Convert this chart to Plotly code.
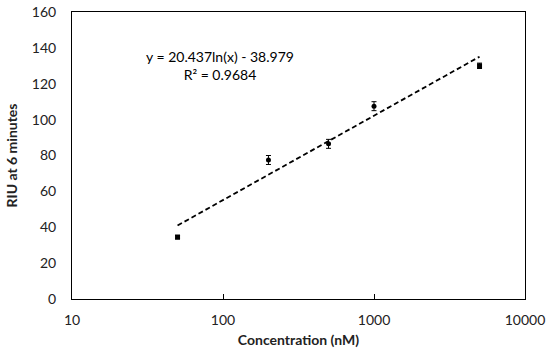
import numpy as np
import plotly.graph_objects as go

concentration = [50, 200, 500, 1000, 5000]
riu = [34.5, 77.5, 86.5, 107.5, 130.0]
riu_err = [1.0, 2.5, 2.5, 2.5, 1.5]
symbols = ["square", "circle", "circle", "circle", "square"]

fit_a = 20.437
fit_b = -38.979
fit_range = [50, 5000]
fit_y = [fit_a * np.log(x) + fit_b for x in fit_range]

FONT = "Lato"

fig = go.Figure()
fig.add_trace(go.Scatter(
    x=fit_range, y=fit_y, mode="lines",
    line=dict(color="black", width=1.8, dash="5px,3px"),
    showlegend=False, hoverinfo="skip"))
fig.add_trace(go.Scatter(
    x=concentration, y=riu, mode="markers",
    marker=dict(color="black", size=5, symbol=symbols),
    error_y=dict(type="data", array=riu_err, color="black", thickness=1, width=2.5),
    showlegend=False))

fig.add_annotation(
    x=0.327, y=0.815, xref="paper", yref="paper",
    xanchor="center", yanchor="middle",
    text="y = 20.437ln(x) - 38.979<br>R² = 0.9684",
    showarrow=False, align="center",
    font=dict(family=FONT, size=14, color="black"))

fig.update_layout(
    width=550, height=357,
    margin=dict(l=72, r=25, t=12, b=58),
    paper_bgcolor="white", plot_bgcolor="white",
    font=dict(family=FONT, size=14, color="#222"),
    xaxis=dict(
        type="log", range=[1, 4], automargin=False,
        tickvals=[10, 100, 1000, 10000], ticktext=["10", "100", "1000", "10000"],
        ticks="inside", ticklen=5, tickcolor="black",
        showline=True, linecolor="black", linewidth=1, mirror=True,
        showgrid=False, zeroline=False, ticklabelstandoff=8,
        title=dict(text="<b>Concentration (nM)</b>", standoff=8,
                   font=dict(family=FONT, size=14, color="#222"))),
    yaxis=dict(
        range=[0, 160], tickvals=list(range(0, 161, 20)), automargin=False,
        ticks="", showline=True, linecolor="black", linewidth=1, mirror=True,
        showgrid=False, zeroline=False, ticklabelstandoff=12,
        title=dict(text="<b>RIU at 6 minutes</b>", standoff=10,
                   font=dict(family=FONT, size=14, color="#222"))),
)

fig.write_html("out.html", config={"displayModeBar": False},
               post_script="document.body.style.margin='0';")
